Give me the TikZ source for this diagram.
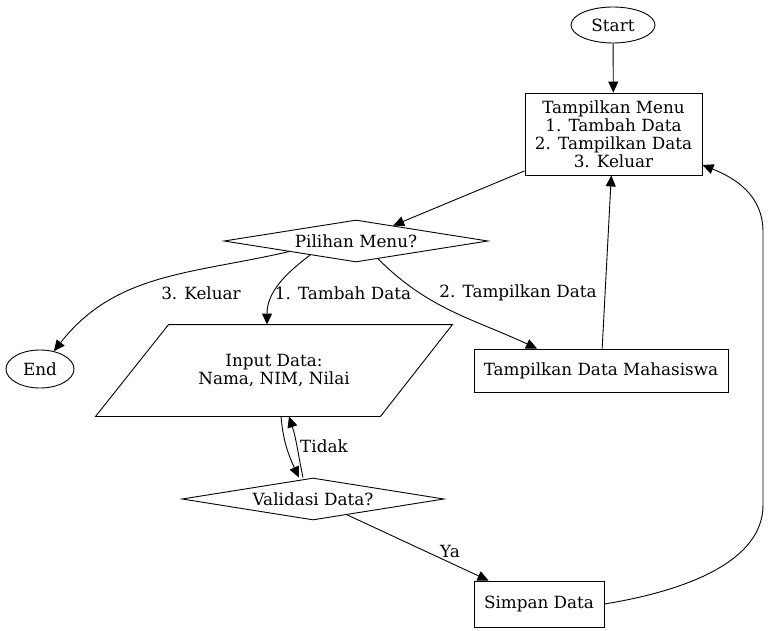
\documentclass[tikz,border=0pt]{standalone}
\usepackage{fontspec}
\setmainfont{DejaVu Serif}
\usetikzlibrary{shapes.geometric,arrows.meta,calc}
\begin{document}
\begin{tikzpicture}[x=1pt,y=-1pt,line width=0.9pt,
    font=\fontsize{16.8}{18}\selectfont,
    every node/.style={align=center, inner sep=0pt},
    terminal/.style={draw, ellipse, minimum width=84, minimum height=36},
    process/.style={draw, rectangle},
    decision/.style={draw, diamond, aspect=6},
    io/.style={rectangle, minimum width=356, minimum height=91}]
      \useasboundingbox (0,0) rectangle (768,631);
      \draw
        (613,25) node[terminal] (start) {Start}
        (613.5,134) node[process, minimum width=177, minimum height=82] (menu)
          {Tampilkan Menu\\1. Tambah Data\\2. Tampilkan Data\\3. Keluar}
        (356,241) node[decision, minimum width=264, minimum height=42] (pilihan) {Pilihan Menu?}
        (40,369) node[terminal, minimum width=68, minimum height=38] (end) {End}
        (274,370.5) node[io] (input) {Input Data:\\Nama, NIM, Nilai}
        (601,370.5) node[process, minimum width=254, minimum height=43] (tampil) {Tampilkan Data Mahasiswa}
        (313,499) node[decision, minimum width=262, minimum height=42] (validasi) {Validasi Data?}
        (539,604) node[process, minimum width=130, minimum height=46] (simpan) {Simpan Data};
      % parallelogram round the input node
      \draw ($(input.north west)+(73,0)$) -- (input.north east)
        -- ($(input.south east)+(-72,0)$) -- (input.south west) -- cycle;
      % edge labels
      \node (lkeluar) at (201,293) {3. Keluar};
      \node (ltambah) at (343,293) {1. Tambah Data};
      \node (ltampil) at (518,293) {2. Tampilkan Data};
      \node (ltidak) at (324,446) {Tidak};
      \node (lya) at (450,551) {Ya};
      \coordinate (rtlow) at (763,505);
      \coordinate (rthigh) at (763,232);
      \begin{scope}[-{Triangle[length=11pt,width=10pt]}]
        \draw (start) -- (menu);
        \draw (menu) -- (pilihan);
        \draw (pilihan.189) to[out=193,in=52] (end);
        \draw (pilihan.197) to[out=217,in=90] ([xshift=-7pt]input.north);
        \draw (pilihan.-39) to[out=-45,in=155] ([xshift=-64pt]tampil.north);
        \draw (tampil) -- (menu);
        \draw ([xshift=7pt]input.south) to[out=-85,in=115] ([xshift=-14pt]validasi.north);
        \draw ([xshift=-10pt]validasi.north) to[out=102,in=-72] ([xshift=15pt]input.south);
        \draw (validasi) -- (simpan);
        \draw (simpan.east) .. controls (690,590) and (763,560) .. (rtlow)
          -- (rthigh) .. controls (763,195) and (735,178) .. ([yshift=-31pt]menu.east);
      \end{scope}
    \end{tikzpicture}
\end{document}
